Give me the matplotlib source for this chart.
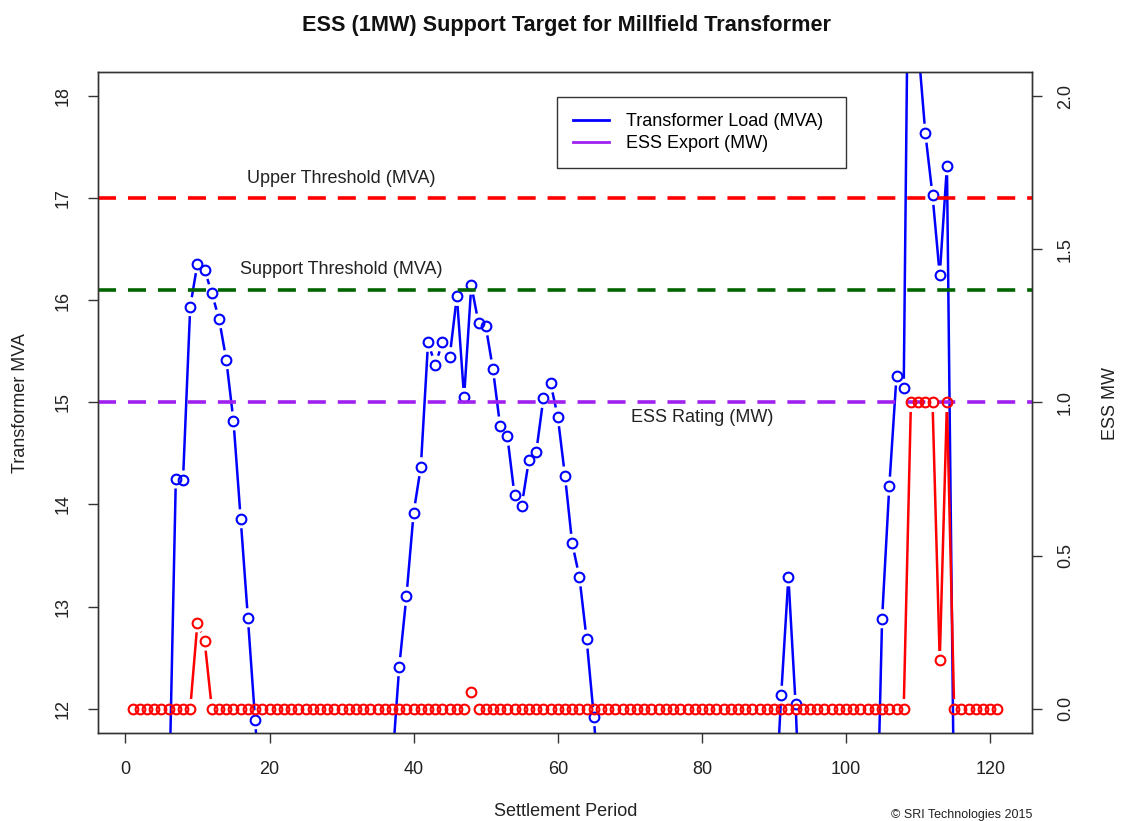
import numpy as np
import matplotlib
matplotlib.use("Agg")
import matplotlib.pyplot as plt
from matplotlib.collections import LineCollection
from matplotlib.lines import Line2D

plt.rcParams['font.family'] = ['Liberation Sans', 'DejaVu Sans']

# Settlement periods (half-hourly) and the two series
period = list(range(1, 122))

load_mva = [
    10.6, 10.4, 10.3, 10.3, 10.5, 10.9, 14.25, 14.24, 15.94, 16.36,
    16.30, 16.07, 15.82, 15.42, 14.82, 13.86, 12.89, 11.89, 10.9, 10.8,
    10.8, 10.7, 10.6, 10.6, 10.5, 10.5, 10.4, 10.4, 10.3, 10.3,
    10.4, 10.5, 10.6, 10.8, 10.9, 11.1, 11.42, 12.41, 13.10, 13.92,
    14.37, 15.59, 15.37, 15.59, 15.45, 16.04, 15.05, 16.15, 15.78, 15.75,
    15.33, 14.77, 14.67, 14.09, 13.99, 14.44, 14.51, 15.04, 15.19, 14.86,
    14.28, 13.62, 13.29, 12.68, 11.92, 10.9, 11.1, 11.0, 10.9, 10.9,
    10.8, 10.8, 10.7, 10.7, 10.6, 10.6, 10.6, 10.5, 10.5, 10.5,
    10.6, 10.6, 10.7, 10.8, 10.9, 11.0, 11.1, 11.0, 10.9, 10.8,
    12.13, 13.29, 12.04, 10.3, 10.4, 10.5, 10.6, 10.6, 10.7, 10.7,
    10.6, 10.5, 10.3, 9.9, 12.88, 14.18, 15.26, 15.14, 22.0, 18.5,
    17.64, 17.03, 16.25, 17.32, 10.9, 10.6, 10.4, 10.3, 10.2, 10.2,
    10.1,
]

ess_mw = [0.0] * 121
ess_mw[9] = 0.28    # period 10
ess_mw[10] = 0.22   # period 11
ess_mw[47] = 0.055  # period 48
for p in (109, 110, 111, 112, 114):
    ess_mw[p - 1] = 1.0
ess_mw[112] = 0.157  # period 113

upper_threshold = 17.0
support_threshold = 16.1
ess_rating_mw = 1.0

x_ticks = [0, 20, 40, 60, 80, 100, 120]
mva_ticks = [12, 13, 14, 15, 16, 17, 18]
mw_ticks = [0.0, 0.5, 1.0, 1.5, 2.0]

FS = 13
fig = plt.figure(figsize=(11.21, 8.21), dpi=100)
ax = fig.add_axes([0.0874, 0.1072, 0.8332, 0.8051])
ax.set_xlim(-3.8, 125.8)
ax.set_ylim(11.76, 18.24)
ax2 = ax.twinx()
ax2.set_ylim(-0.08, 2.08)


def gapped_segments(axis, xs, ys, gap_px):
    """Segments between successive points, cut back near each point (type 'b' style)."""
    pts = axis.transData.transform(np.column_stack([xs, ys]).astype(float))
    inv = axis.transData.inverted()
    segs = []
    for p0, p1 in zip(pts[:-1], pts[1:]):
        d = p1 - p0
        length = np.hypot(d[0], d[1])
        if length <= 2 * gap_px:
            continue
        u = d / length
        a, b = inv.transform(np.array([p0 + u * gap_px, p1 - u * gap_px]))
        segs.append([a, b])
    return segs


GAP = 9.5
MS = 7.0
MEW = 1.5

# Transformer load (left axis)
ax.add_collection(LineCollection(gapped_segments(ax, period, load_mva, GAP),
                                 colors='blue', linewidths=1.8, zorder=3))
ax.plot(period, load_mva, linestyle='none', marker='o', ms=MS, mew=MEW,
        mfc='none', mec='blue', zorder=4)

# Threshold lines
dash = (5.0, 3.3)
ax.axhline(upper_threshold, color='red', lw=2.6, dashes=dash, zorder=5)
ax.axhline(support_threshold, color='#006400', lw=2.6, dashes=dash, zorder=5)
ax2.axhline(ess_rating_mw, color='#A020F0', lw=2.6, dashes=dash, zorder=2)

ax.text(30, 17.2, "Upper Threshold (MVA)", ha='center', va='center', fontsize=FS, color='#222222')
ax.text(30, 16.3, "Support Threshold (MVA)", ha='center', va='center', fontsize=FS, color='#222222')
ax2.text(80, 0.95, "ESS Rating (MW)", ha='center', va='center', fontsize=FS, color='#222222')

# ESS export (right axis)
ax2.add_collection(LineCollection(gapped_segments(ax2, period, ess_mw, GAP),
                                  colors='red', linewidths=1.8, zorder=3))
ax2.plot(period, ess_mw, linestyle='none', marker='o', ms=MS, mew=MEW,
         mfc='none', mec='red', zorder=4)

# Axes styling
for a in (ax, ax2):
    for s in a.spines.values():
        s.set_color('#333333')
        s.set_linewidth(1.0)
ax.set_xticks(x_ticks)
ax.set_xticklabels([str(t) for t in x_ticks])
ax.set_yticks(mva_ticks)
ax.set_yticklabels([str(t) for t in mva_ticks], rotation=90, va='center')
ax2.set_yticks(mw_ticks)
ax2.set_yticklabels([f"{t:.1f}" for t in mw_ticks], rotation=90, va='center')
ax.tick_params(axis='x', length=7, width=1.0, color='#333333', pad=13, labelsize=FS, labelcolor='#222222')
ax.tick_params(axis='y', length=7, width=1.0, color='#333333', pad=12, labelsize=FS, labelcolor='#222222')
ax2.tick_params(axis='y', length=7, width=1.0, color='#333333', pad=11, labelsize=FS, labelcolor='#222222')

# Legend
handles = [Line2D([], [], color='blue', lw=2.0), Line2D([], [], color='#A020F0', lw=2.0)]
leg = ax2.legend(handles, ["Transformer Load (MVA)", "ESS Export (MW)"],
                 loc='upper left', bbox_to_anchor=(0.4914, 0.962, 0.3095, 0.0),
                 mode='expand', borderaxespad=0, fontsize=FS, frameon=True,
                 fancybox=False, framealpha=1, edgecolor='#333333',
                 handlelength=2.0, handletextpad=0.9, labelspacing=0.25,
                 borderpad=0.9)
leg.get_frame().set_linewidth(1.0)

# Titles and axis labels
fig.text(0.505, 0.969, "ESS (1MW) Support Target for Millfield Transformer",
         ha='center', va='center', fontsize=15.6, fontweight='bold', color='#111111')
fig.text(0.505, 0.011, "Settlement Period", ha='center', va='center', fontsize=FS, color='#222222')
fig.text(0.018, 0.509, "Transformer MVA", ha='center', va='center', rotation=90, fontsize=FS, color='#222222')
fig.text(0.9905, 0.509, "ESS MW", ha='center', va='center', rotation=90, fontsize=FS, color='#222222')
fig.text(0.921, 0.007, "\u00a9 SRI Technologies 2015", ha='right', va='center', fontsize=9, color='#222222')

fig.savefig("out.png", dpi=100)
